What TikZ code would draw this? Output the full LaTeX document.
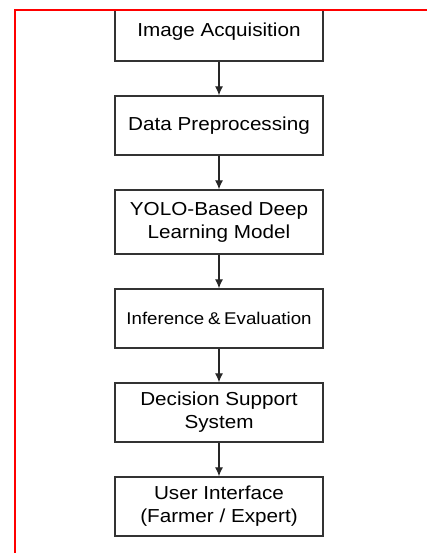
\documentclass[tikz,border=0pt]{standalone}
\usepackage{fontspec}
\setmainfont{Liberation Sans}[FakeStretch=1.1]
\usetikzlibrary{positioning,arrows.meta}
\tikzset{>={Latex[length=9pt,width=8pt]}}
\tikzset{
  procbox/.style={draw=black!80, line width=1.3pt, fill=white, minimum width=208pt,
    minimum height=59pt, align=center, inner sep=2pt,
    font=\fontsize{18.8}{23}\selectfont},
  flowarrow/.style={->, line width=1.2pt, black!85}
}

\begin{document}
\begin{tikzpicture}[x=1pt,y=1pt, node distance=33.7pt]
\useasboundingbox (0,0) rectangle (427,-553);
\begin{scope}
\clip (0,-10) rectangle (427,-553);
\node [procbox] (acq) at (219,-31.5) {Image Acquisition};
\node [procbox, below=of acq] (prep) {Data Preprocessing};
\node [procbox, below=of prep, minimum height=64pt] (yolo) {YOLO-Based Deep\\Learning Model};
\node [procbox, below=of yolo, font=\fontsize{17}{20}\selectfont] (infer) {Inference\hspace{-1.5pt} \&\hspace{-1.5pt} Evaluation};
\node [procbox, below=of infer] (dss) {Decision Support\\System};
\node [procbox, below=of dss] (ui) {User Interface\\(Farmer / Expert)};
\draw [flowarrow] (acq) -- (prep);
\draw [flowarrow] (prep) -- (yolo);
\draw [flowarrow] (yolo) -- (infer);
\draw [flowarrow] (infer) -- (dss);
\draw [flowarrow] (dss) -- (ui);
\end{scope}
% frame
\draw [red, line width=2.2pt] (15,-553) -- (15,-10) -- (427,-10);
\end{tikzpicture}
\end{document}
